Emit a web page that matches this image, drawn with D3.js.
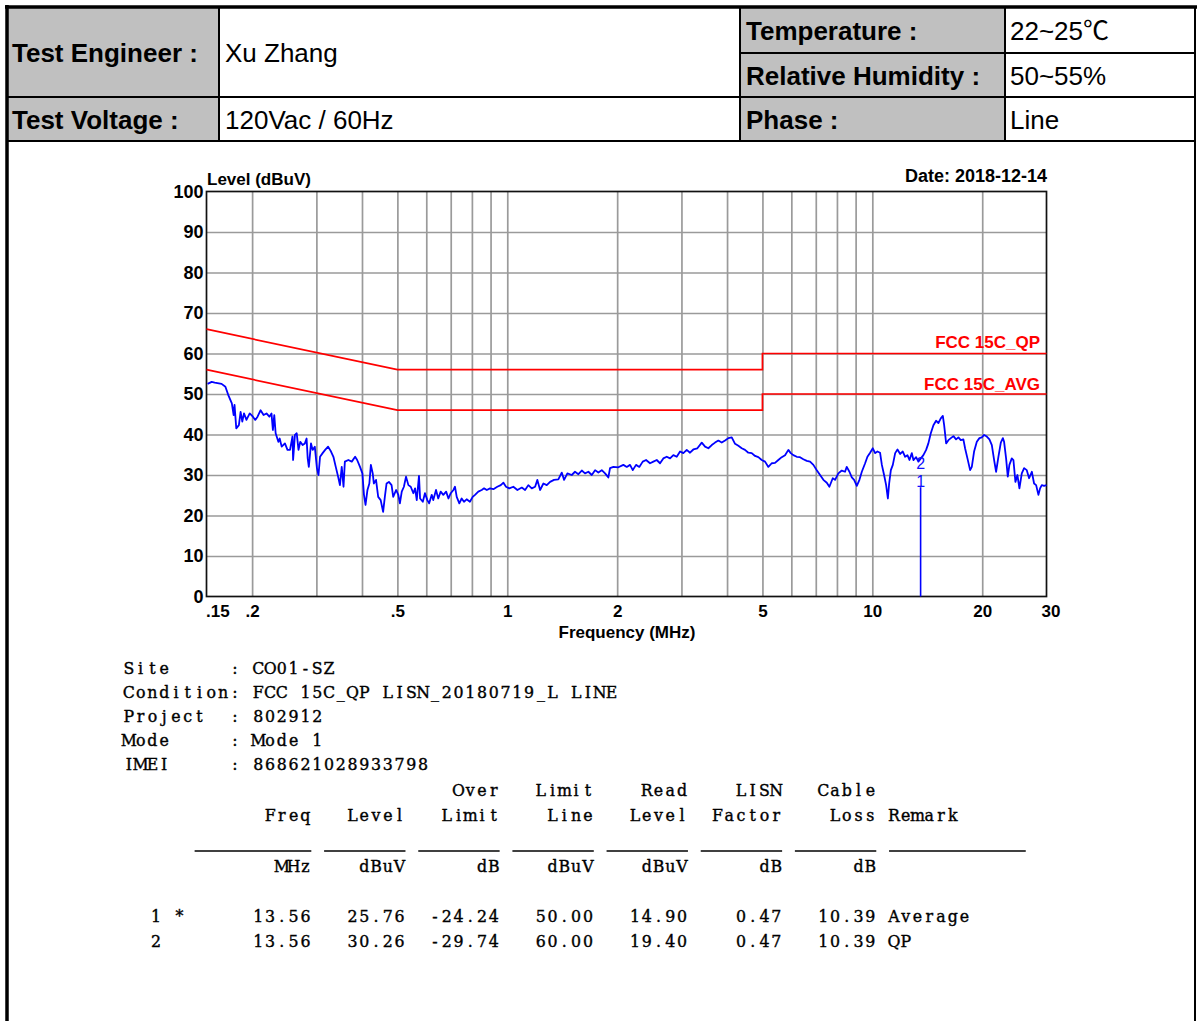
<!DOCTYPE html>
<html lang="en">
<head>
<meta charset="utf-8">
<title>Conducted Emission - Line</title>
<script src="https://d3js.org/d3.v7.min.js"></script>
<style>
  body { margin: 0; background: #fff; }
  svg text { font-family: "Liberation Sans", Arial, "Noto Sans CJK SC", sans-serif; }
  svg text.mono { font-family: "DejaVu Serif", "Liberation Serif", serif; white-space: pre; }
</style>
</head>
<body>
<svg id="page" width="1197" height="1021"></svg>
<script>
// ---- header table ----
var headLabels = ["Test Engineer :", "Test Voltage :", "Temperature :", "Relative Humidity :", "Phase :"];
var headValues = ["Xu Zhang", "120Vac / 60Hz", "22~25\u2103", "50~55%", "Line"];

// ---- chart axes ----
var levelTicks = [0, 10, 20, 30, 40, 50, 60, 70, 80, 90, 100];
var gridFreqs = [0.2, 0.3, 0.4, 0.5, 0.6, 0.7, 0.8, 0.9, 1, 2, 3, 4, 5, 6, 7, 8, 9, 10, 20];
var freqTicks = [0.15, 0.2, 0.5, 1, 2, 5, 10, 20, 30];
var freqTickLabels = [".15", ".2", ".5", "1", "2", "5", "10", "20", "30"];

// ---- limit lines (MHz, dBuV) ----
var qpLimitFreq = [0.15, 0.5, 5, 5, 30];
var qpLimitLevel = [66, 56, 56, 60, 60];
var avgLimitFreq = [0.15, 0.5, 5, 5, 30];
var avgLimitLevel = [56, 46, 46, 50, 50];

var traceFreq = [
  0.151, 0.155, 0.158, 0.165, 0.169, 0.172, 0.176, 0.178, 0.179, 0.181, 0.184, 0.186, 0.188, 0.190, 0.193,
  0.197, 0.201, 0.204, 0.207, 0.211, 0.215, 0.219, 0.223, 0.226, 0.228, 0.230, 0.232, 0.236, 0.238, 0.241,
  0.246, 0.250, 0.254, 0.258, 0.259, 0.262, 0.265, 0.268, 0.271, 0.275, 0.279, 0.282, 0.284, 0.286, 0.290,
  0.293, 0.297, 0.301, 0.304, 0.307, 0.312, 0.317, 0.323, 0.329, 0.334, 0.339, 0.344, 0.348, 0.352, 0.356,
  0.359, 0.367, 0.375, 0.383, 0.388, 0.395, 0.401, 0.405, 0.409, 0.414, 0.419, 0.423, 0.428, 0.431, 0.437,
  0.443, 0.450, 0.457, 0.462, 0.467, 0.474, 0.482, 0.487, 0.496, 0.503, 0.508, 0.514, 0.521, 0.528, 0.536,
  0.544, 0.553, 0.559, 0.565, 0.573, 0.577, 0.587, 0.595, 0.604, 0.611, 0.621, 0.627, 0.638, 0.647, 0.657,
  0.668, 0.680, 0.690, 0.700, 0.712, 0.719, 0.727, 0.739, 0.750, 0.761, 0.774, 0.790, 0.804, 0.816, 0.833,
  0.851, 0.864, 0.879, 0.897, 0.916, 0.939, 0.960, 0.976, 0.992, 1.013, 1.039, 1.066, 1.096, 1.119, 1.142,
  1.167, 1.192, 1.209, 1.230, 1.256, 1.283, 1.310, 1.343, 1.380, 1.410, 1.431, 1.461, 1.502, 1.533, 1.566,
  1.600, 1.633, 1.668, 1.704, 1.740, 1.776, 1.815, 1.853, 1.892, 1.912, 1.953, 2.015, 2.080, 2.125, 2.169,
  2.207, 2.253, 2.300, 2.350, 2.400, 2.461, 2.513, 2.567, 2.621, 2.676, 2.734, 2.792, 2.851, 2.912, 2.974,
  3.036, 3.102, 3.167, 3.234, 3.317, 3.410, 3.482, 3.555, 3.632, 3.708, 3.786, 3.868, 3.950, 4.033, 4.120,
  4.207, 4.296, 4.388, 4.480, 4.574, 4.674, 4.772, 4.873, 4.978, 5.083, 5.190, 5.302, 5.413, 5.527, 5.647,
  5.767, 5.888, 5.977, 6.076, 6.208, 6.338, 6.472, 6.614, 6.753, 6.895, 7.044, 7.192, 7.344, 7.503, 7.627,
  7.791, 7.905, 8.071, 8.246, 8.419, 8.510, 8.655, 8.787, 8.915, 9.068, 9.219, 9.359, 9.556, 9.696, 9.862,
  10.03, 10.18, 10.33, 10.50, 10.62, 10.77, 10.91, 11.03, 11.12, 11.24, 11.38, 11.55, 11.72, 11.92, 12.12,
  12.30, 12.48, 12.64, 12.83, 12.96, 13.18, 13.37, 13.58, 13.80, 14.04, 14.24, 14.46, 14.70, 14.95, 15.17,
  15.40, 15.60, 15.73, 15.93, 16.16, 16.41, 16.68, 16.96, 17.21, 17.47, 17.76, 17.95, 18.22, 18.53, 18.73,
  19.00, 19.33, 19.65, 19.95, 20.24, 20.59, 20.93, 21.25, 21.56, 21.83, 22.15, 22.49, 22.78, 22.96, 23.25,
  23.50, 23.74, 24.10, 24.35, 24.66, 24.97, 25.29, 25.67, 26.05, 26.49, 26.88, 27.35, 27.74, 28.10, 28.51,
  28.81, 29.12, 29.55, 30.0
];
var traceLevel = [
  52.5, 53.0, 52.8, 52.5, 51.8, 49.8, 47.7, 44.8, 47.3, 41.5, 42.3, 45.6, 43.2, 45.2, 43.6,
  45.2, 44.4, 43.6, 44.4, 46.0, 44.8, 45.2, 44.4, 45.2, 41.1, 44.8, 40.3, 38.2, 39.0, 37.0,
  37.8, 36.2, 36.2, 39.5, 33.7, 39.9, 40.3, 36.2, 38.2, 37.4, 37.8, 39.0, 34.1, 32.0, 37.8,
  36.2, 37.0, 31.7, 30.0, 34.5, 35.4, 36.2, 37.0, 35.8, 34.5, 32.0, 29.6, 27.5, 32.0, 27.1,
  33.3, 33.7, 33.3, 34.5, 33.7, 32.0, 30.4, 25.1, 22.6, 26.3, 27.9, 32.5, 30.4, 27.9, 28.8,
  24.6, 23.8, 20.9, 24.6, 27.9, 28.3, 27.5, 24.6, 26.3, 25.1, 23.0, 25.9, 27.1, 29.6, 27.5,
  27.1, 25.5, 26.7, 23.8, 29.8, 24.2, 23.4, 25.5, 23.8, 23.0, 25.1, 23.8, 26.3, 24.2, 25.9,
  25.1, 25.9, 24.2, 25.5, 26.3, 27.1, 24.6, 23.0, 24.2, 23.4, 24.0, 23.4, 24.6, 25.1, 25.9,
  26.3, 26.7, 26.3, 26.7, 26.5, 27.1, 27.5, 28.1, 27.1, 26.7, 27.1, 26.3, 26.9, 26.3, 27.5,
  26.7, 27.1, 28.8, 26.3, 27.9, 27.5, 28.3, 28.8, 28.9, 30.6, 28.8, 30.4, 30.0, 30.8, 30.2,
  31.1, 30.4, 30.8, 30.0, 31.2, 30.6, 31.2, 30.4, 29.4, 31.7, 32.0, 31.9, 32.5, 32.0, 32.5,
  31.2, 32.5, 32.0, 33.3, 33.7, 32.9, 33.3, 33.7, 32.9, 34.1, 34.5, 34.1, 34.9, 34.5, 35.8,
  35.4, 36.2, 35.5, 36.3, 36.6, 38.0, 37.0, 36.6, 37.4, 38.0, 38.5, 38.0, 38.5, 39.1, 39.3,
  37.7, 37.2, 36.6, 36.2, 35.5, 35.4, 34.7, 34.4, 33.7, 33.3, 32.0, 32.9, 33.0, 33.7, 34.4,
  34.9, 36.2, 35.4, 34.9, 34.5, 34.4, 33.9, 33.5, 33.3, 32.5, 31.2, 30.0, 28.8, 28.1, 27.1,
  29.2, 28.8, 30.4, 31.1, 30.8, 32.0, 30.8, 29.4, 28.8, 27.3, 28.8, 30.8, 32.9, 34.5, 35.5,
  36.6, 35.4, 35.8, 35.5, 32.5, 30.0, 27.5, 24.2, 27.9, 31.2, 32.5, 35.4, 36.3, 35.2, 35.8,
  34.5, 34.9, 33.7, 35.4, 33.7, 34.4, 33.3, 34.1, 34.9, 36.2, 37.8, 40.3, 42.3, 43.4, 42.8,
  44.0, 44.6, 42.3, 37.8, 38.6, 39.1, 39.6, 38.8, 39.3, 38.6, 38.8, 36.6, 34.1, 31.2, 32.0,
  35.8, 38.2, 39.1, 39.3, 39.9, 39.5, 38.8, 37.4, 33.7, 30.8, 34.5, 38.0, 39.1, 38.2, 34.1,
  29.6, 32.5, 34.1, 33.7, 28.3, 30.0, 26.7, 30.4, 31.7, 31.2, 29.2, 30.8, 27.9, 27.5, 25.1,
  26.7, 27.5, 27.3, 27.5
];

// ---- final measurement table ----
var markNo = ["1 *", "2"];
var markFreq = [13.56, 13.56];
var markLevel = [25.76, 30.26];
var overLimit = [-24.24, -29.74];
var limitLine = [50.00, 60.00];
var readLevel = [14.90, 19.40];
var lisnFactor = [0.47, 0.47];
var cableLoss = [10.39, 10.39];
var remark = ["Average", "QP"];

var colHead1 = ["", "", "Over", "Limit", "Read", "LISN", "Cable"];
var colHead2 = ["Freq", "Level", "Limit", "Line", "Level", "Factor", "Loss"];
var colUnits = ["MHz", "dBuV", "dB", "dBuV", "dBuV", "dB", "dB"];

var infoKeys = ["Site", "Condition", "Project", "Mode", "IMEI"];
var infoVals = ["CO01-SZ", "FCC 15C_QP LISN_20180719_L LINE", "802912", "Mode 1", "868621028933798"];

var svg = d3.select("#page");
svg.append("rect").attr("width", 1197).attr("height", 1021).attr("fill", "#fff");

// ================= header table =================
var tbl = svg.append("g");
tbl.append("rect").attr("x", 7).attr("y", 7).attr("width", 212).attr("height", 134).attr("fill", "#c0c0c0");
tbl.append("rect").attr("x", 740).attr("y", 7).attr("width", 265).attr("height", 134).attr("fill", "#c0c0c0");

var rules = [
  [5, 7, 1197, 7, 3.5],
  [7, 5, 7, 1021, 3.5],
  [1195, 7, 1195, 1021, 2],
  [7, 97, 1195, 97, 2],
  [7, 141, 1195, 141, 2],
  [740, 53, 1195, 53, 2],
  [219, 7, 219, 141, 2],
  [740, 7, 740, 141, 2],
  [1005, 7, 1005, 141, 2]
];
tbl.selectAll("line.rule").data(rules).enter().append("line")
  .attr("x1", function(d) { return d[0]; }).attr("y1", function(d) { return d[1]; })
  .attr("x2", function(d) { return d[2]; }).attr("y2", function(d) { return d[3]; })
  .attr("stroke", "#000").attr("stroke-width", function(d) { return d[4]; });

var labelPos = [[12, 62], [12, 129], [746, 40], [746, 85], [746, 129]];
var valuePos = [[225, 62], [225, 129], [1010, 40], [1010, 85], [1010, 129]];
headLabels.forEach(function(t, i) {
  tbl.append("text").attr("x", labelPos[i][0]).attr("y", labelPos[i][1])
    .attr("font-size", 26).attr("font-weight", "bold").attr("fill", "#000").text(t);
});
headValues.forEach(function(t, i) {
  tbl.append("text").attr("x", valuePos[i][0]).attr("y", valuePos[i][1])
    .attr("font-size", 26).attr("fill", "#000").text(t);
});

// ================= chart =================
var L = 206.5, R = 1046.5, T = 191.5, B = 596.5;
var x = d3.scaleLog().domain([0.15, 30]).range([L, R]);
var y = d3.scaleLinear().domain([0, 100]).range([B, T]);

var chart = svg.append("g");

// grid
chart.append("g").attr("transform", "translate(0," + B + ")")
  .call(d3.axisBottom(x).tickValues(gridFreqs).tickSize(-(B - T)).tickFormat(""))
  .call(function(g) { g.select(".domain").remove(); })
  .call(function(g) { g.selectAll("line").attr("stroke", "#9a9a9a").attr("stroke-width", 1.7); });
chart.append("g").attr("transform", "translate(" + L + ",0)")
  .call(d3.axisLeft(y).tickValues(levelTicks.slice(1, -1)).tickSize(-(R - L)).tickFormat(""))
  .call(function(g) { g.select(".domain").remove(); })
  .call(function(g) { g.selectAll("line").attr("stroke", "#9a9a9a").attr("stroke-width", 1.7); });

// frame
chart.append("rect").attr("x", L).attr("y", T).attr("width", R - L).attr("height", B - T)
  .attr("fill", "none").attr("stroke", "#111").attr("stroke-width", 1.7);

// y tick labels
chart.append("g").attr("transform", "translate(" + L + ",0)")
  .call(d3.axisLeft(y).tickValues(levelTicks).tickSize(0).tickPadding(3))
  .call(function(g) { g.select(".domain").remove(); })
  .call(function(g) {
    g.selectAll("text").attr("font-family", null).attr("font-size", 18)
      .attr("font-weight", "bold").attr("fill", "#000");
  });

// x tick labels
chart.append("g").attr("transform", "translate(0," + B + ")")
  .call(d3.axisBottom(x).tickValues(freqTicks).tickSize(0).tickPadding(8)
    .tickFormat(function(d, i) { return freqTickLabels[i]; }))
  .call(function(g) { g.select(".domain").remove(); })
  .call(function(g) {
    g.selectAll("text").attr("font-family", null).attr("font-size", 17)
      .attr("font-weight", "bold").attr("fill", "#000");
    g.selectAll("text").filter(function(d) { return d === 0.15; })
      .attr("text-anchor", "start").attr("dx", -1);
    g.selectAll("text").filter(function(d) { return d === 30; }).attr("dx", 4);
  });

// titles
chart.append("text").attr("x", 207).attr("y", 185).attr("font-size", 17)
  .attr("font-weight", "bold").text("Level (dBuV)");
chart.append("text").attr("x", 1047).attr("y", 182).attr("font-size", 18)
  .attr("font-weight", "bold").attr("text-anchor", "end").text("Date: 2018-12-14");
chart.append("text").attr("x", 627).attr("y", 638).attr("font-size", 17)
  .attr("font-weight", "bold").attr("text-anchor", "middle").text("Frequency (MHz)");

var line = d3.line().x(function(d) { return x(d[0]); }).y(function(d) { return y(d[1]); });

// limits
var qp = d3.zip(qpLimitFreq, qpLimitLevel);
var avg = d3.zip(avgLimitFreq, avgLimitLevel);
[qp, avg].forEach(function(pts) {
  chart.append("path").datum(pts).attr("d", line)
    .attr("fill", "none").attr("stroke", "#ff0000").attr("stroke-width", 1.7);
});
chart.append("text").attr("x", 1040).attr("y", y(60) - 6).attr("text-anchor", "end")
  .attr("font-size", 17).attr("font-weight", "bold").attr("fill", "#ff0000").text("FCC 15C_QP");
chart.append("text").attr("x", 1040).attr("y", y(50) - 4).attr("text-anchor", "end")
  .attr("font-size", 17).attr("font-weight", "bold").attr("fill", "#ff0000").text("FCC 15C_AVG");

// trace
chart.append("path").datum(d3.zip(traceFreq, traceLevel)).attr("d", line)
  .attr("fill", "none").attr("stroke", "#0000ff").attr("stroke-width", 1.8)
  .attr("stroke-linejoin", "round");

// markers
chart.append("line").attr("x1", x(markFreq[0])).attr("x2", x(markFreq[0]))
  .attr("y1", y(markLevel[0]) - 5).attr("y2", B)
  .attr("stroke", "#0000ff").attr("stroke-width", 1.6);
markFreq.forEach(function(f, i) {
  chart.append("text").attr("x", x(f)).attr("y", y(markLevel[i]) - 5)
    .attr("text-anchor", "middle").attr("font-size", 16).attr("fill", "#1010ff")
    .text(String(i + 1));
});

// ================= text report (fixed-pitch grid, serif glyphs) =================
var X0 = 123, CW = 11.77, FS = 17, SX = 0.93;
var rep = svg.append("g").attr("fill", "#000");
// draw string s with its first character in grid column col
function mono(col, yp, s) {
  var xs = s.split("").map(function(c, i) { return ((col + i + 0.5) * CW / SX).toFixed(2); });
  return rep.append("text").attr("class", "mono")
    .attr("transform", "translate(" + X0 + "," + yp + ") scale(" + SX + ",1)")
    .attr("x", xs.join(" ")).attr("y", 0)
    .attr("font-size", FS).attr("text-anchor", "middle")
    .attr("stroke", "#000").attr("stroke-width", 0.4).text(s);
}
function monoEnd(endCol, yp, s) { return mono(endCol - s.length, yp, s); }

infoKeys.forEach(function(k, i) {
  mono(0, 674 + 24 * i, (k + "         ").slice(0, 9) + ": " + infoVals[i]);
});

var colEnd = [16, 24, 32, 40, 48, 56, 64];
colHead1.forEach(function(t, i) { if (t) monoEnd(colEnd[i], 796, t); });
colHead2.forEach(function(t, i) { monoEnd(colEnd[i], 821, t); });
mono(65, 821, "Remark");

var underline = [[6, 16], [17, 24], [25, 32], [33, 40], [41, 48], [49, 56], [57, 64], [65, 76.7]];
rep.selectAll("line.ul").data(underline).enter().append("line")
  .attr("x1", function(d) { return X0 + d[0] * CW + 1; })
  .attr("x2", function(d) { return X0 + d[1] * CW; })
  .attr("y1", 851).attr("y2", 851).attr("stroke", "#000").attr("stroke-width", 1.4);

colUnits.forEach(function(t, i) { monoEnd(colEnd[i], 872, t); });

markFreq.forEach(function(f, i) {
  var ry = 922 + 25 * i;
  var cells = [f.toFixed(2), markLevel[i].toFixed(2), overLimit[i].toFixed(2), limitLine[i].toFixed(2),
               readLevel[i].toFixed(2), lisnFactor[i].toFixed(2), cableLoss[i].toFixed(2)];
  cells.forEach(function(c, j) { monoEnd(colEnd[j], ry, c); });
  mono(65, ry, remark[i]);
  mono(2.3, ry, markNo[i]);
});
</script>
</body>
</html>
